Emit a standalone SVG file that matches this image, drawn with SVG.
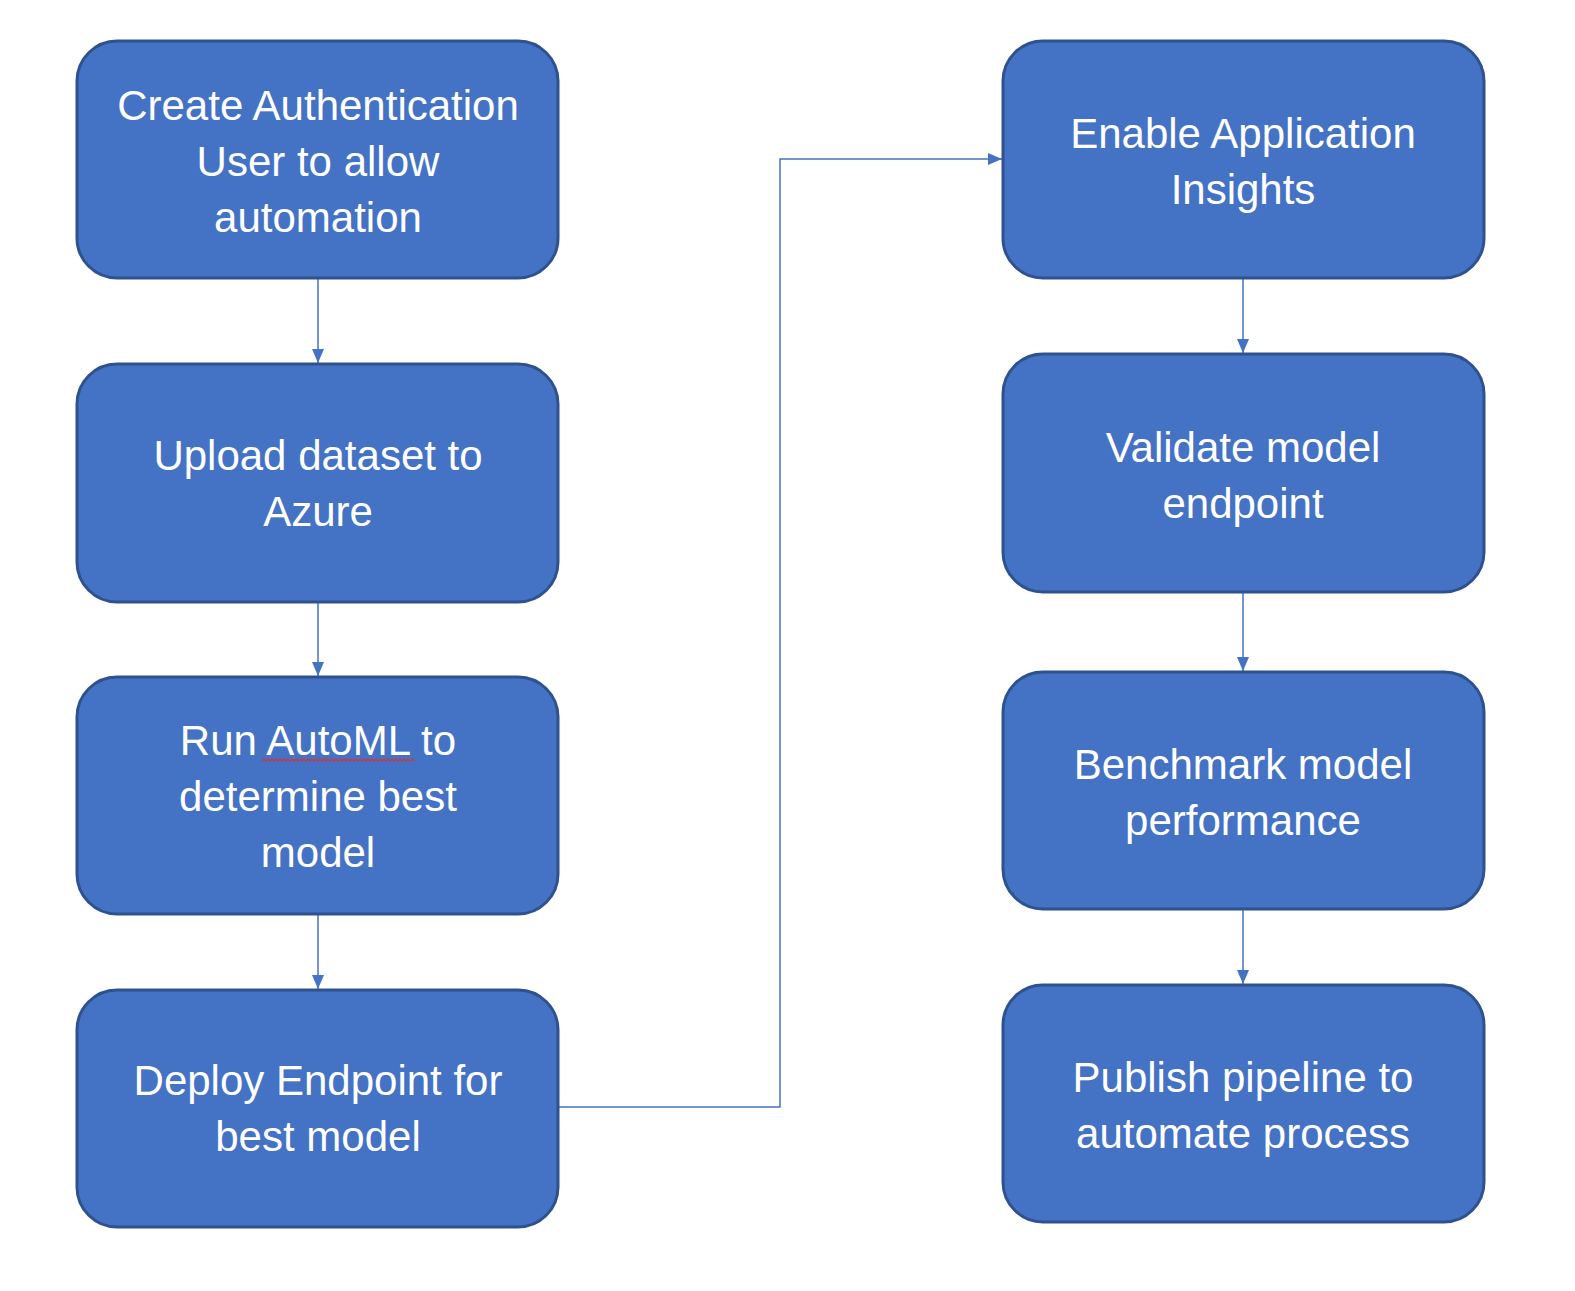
<svg xmlns="http://www.w3.org/2000/svg" width="1575" height="1291" viewBox="0 0 1575 1291">
<style>
.box{fill:#4472C4;stroke:#2F528F;stroke-width:3}
.t{font-family:"Liberation Sans",Arial,sans-serif;font-size:42px;fill:#FFFFFF;text-anchor:middle}
.c{fill:none;stroke:#4472C4;stroke-width:1.5}
</style>
<defs>
<marker id="ah" viewBox="0 0 14 12" refX="14" refY="6" markerWidth="14" markerHeight="12" markerUnits="userSpaceOnUse" orient="auto">
<path d="M0,0 L14,6 L0,12 Z" fill="#4472C4"/>
</marker>
</defs>
<rect width="1575" height="1291" fill="#FFFFFF"/>
<g id="connectors">
<line class="c" x1="318" y1="279" x2="318" y2="363" marker-end="url(#ah)"/>
<line class="c" x1="318" y1="603" x2="318" y2="676" marker-end="url(#ah)"/>
<line class="c" x1="318" y1="915" x2="318" y2="989" marker-end="url(#ah)"/>
<polyline class="c" points="559,1107 780,1107 780,159 1002,159" marker-end="url(#ah)"/>
<line class="c" x1="1243" y1="279" x2="1243" y2="353" marker-end="url(#ah)"/>
<line class="c" x1="1243" y1="593" x2="1243" y2="671" marker-end="url(#ah)"/>
<line class="c" x1="1243" y1="910" x2="1243" y2="984" marker-end="url(#ah)"/>
</g>
<g id="n1">
<rect class="box" x="77" y="41" width="481" height="237" rx="40"/>
<text class="t" x="318" y="120">Create Authentication</text>
<text class="t" x="318" y="176">User to allow</text>
<text class="t" x="318" y="232">automation</text>
</g>
<g id="n2">
<rect class="box" x="77" y="364" width="481" height="238" rx="40"/>
<text class="t" x="318" y="470">Upload dataset to</text>
<text class="t" x="318" y="526">Azure</text>
</g>
<g id="n3">
<rect class="box" x="77" y="677" width="481" height="237" rx="40"/>
<text class="t" x="318" y="755">Run AutoML to</text>
<text class="t" x="318" y="811">determine best</text>
<text class="t" x="318" y="867">model</text>
<path d="M262,761 l2,-2 l2,2 l2,-2 l2,2 l2,-2 l2,2 l2,-2 l2,2 l2,-2 l2,2 l2,-2 l2,2 l2,-2 l2,2 l2,-2 l2,2 l2,-2 l2,2 l2,-2 l2,2 l2,-2 l2,2 l2,-2 l2,2 l2,-2 l2,2 l2,-2 l2,2 l2,-2 l2,2 l2,-2 l2,2 l2,-2 l2,2 l2,-2 l2,2 l2,-2 l2,2 l2,-2 l2,2 l2,-2 l2,2 l2,-2 l2,2 l2,-2 l2,2 l2,-2 l2,2 l2,-2 l2,2 l2,-2 l2,2 l2,-2 l2,2 l2,-2 l2,2 l2,-2 l2,2 l2,-2 l2,2 l2,-2 l2,2 l2,-2 l2,2 l2,-2 l2,2 l2,-2 l2,2 l2,-2 l2,2 l2,-2 l2,2 l2,-2 l2,2 l2,-2 l2,2" fill="none" stroke="#E03030" stroke-width="1.2"/>
</g>
<g id="n4">
<rect class="box" x="77" y="990" width="481" height="237" rx="40"/>
<text class="t" x="318" y="1095">Deploy Endpoint for</text>
<text class="t" x="318" y="1151">best model</text>
</g>
<g id="n5">
<rect class="box" x="1003" y="41" width="481" height="237" rx="40"/>
<text class="t" x="1243" y="148">Enable Application</text>
<text class="t" x="1243" y="204">Insights</text>
</g>
<g id="n6">
<rect class="box" x="1003" y="354" width="481" height="238" rx="40"/>
<text class="t" x="1243" y="462">Validate model</text>
<text class="t" x="1243" y="518">endpoint</text>
</g>
<g id="n7">
<rect class="box" x="1003" y="672" width="481" height="237" rx="40"/>
<text class="t" x="1243" y="779">Benchmark model</text>
<text class="t" x="1243" y="835">performance</text>
</g>
<g id="n8">
<rect class="box" x="1003" y="985" width="481" height="237" rx="40"/>
<text class="t" x="1243" y="1092">Publish pipeline to</text>
<text class="t" x="1243" y="1148">automate process</text>
</g>
</svg>
